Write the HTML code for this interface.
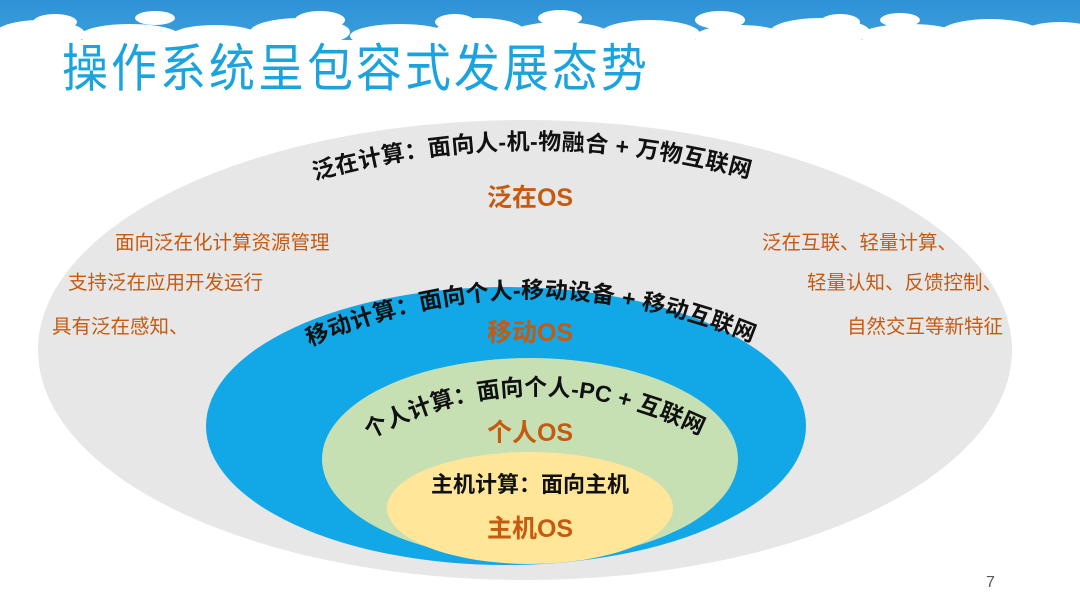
<!DOCTYPE html>
<html><head><meta charset="utf-8"><style>
html,body{margin:0;padding:0;width:1080px;height:608px;overflow:hidden;background:#fff}
svg{display:block}
text{font-family:"Liberation Sans","Noto Sans CJK SC",sans-serif}
</style></head><body>
<svg width="1080" height="608" viewBox="0 0 1080 608">
<defs>
<linearGradient id="sky" x1="0" y1="0" x2="0" y2="1"><stop offset="0" stop-color="#2f92d6"/><stop offset="1" stop-color="#3a9edc"/></linearGradient>
<path id="a1" d="M 308 182 Q 530 118 756 180"/>
<path id="a2" d="M 306 348 Q 530 250 756 344"/>
<path id="a3" d="M 364 442 Q 530 350 706 438"/>
</defs>
<rect x="0" y="0" width="1080" height="40" fill="url(#sky)"/>
<g fill="#fff">
<ellipse cx="40" cy="34" rx="45" ry="14"/><ellipse cx="130" cy="36" rx="50" ry="12"/>
<ellipse cx="215" cy="37" rx="45" ry="12"/><ellipse cx="300" cy="32" rx="50" ry="14"/>
<ellipse cx="400" cy="36" rx="50" ry="12"/><ellipse cx="480" cy="32" rx="45" ry="14"/>
<ellipse cx="560" cy="35" rx="50" ry="13"/><ellipse cx="650" cy="34" rx="50" ry="14"/>
<ellipse cx="740" cy="37" rx="45" ry="12"/><ellipse cx="820" cy="32" rx="50" ry="14"/>
<ellipse cx="910" cy="36" rx="50" ry="12"/><ellipse cx="990" cy="33" rx="50" ry="14"/>
<ellipse cx="1060" cy="35" rx="40" ry="13"/>
<ellipse cx="55" cy="22" rx="22" ry="8"/><ellipse cx="155" cy="18" rx="20" ry="7"/>
<ellipse cx="320" cy="20" rx="25" ry="9"/><ellipse cx="455" cy="22" rx="20" ry="8"/>
<ellipse cx="560" cy="18" rx="22" ry="8"/><ellipse cx="720" cy="20" rx="25" ry="9"/>
<ellipse cx="840" cy="22" rx="20" ry="8"/><ellipse cx="900" cy="20" rx="20" ry="7"/>
</g>
<text x="62" y="86" font-size="46" fill="#1ba3df" letter-spacing="3" transform="translate(0,-10) scale(1,1.12)">操作系统呈包容式发展态势</text>
<ellipse cx="525" cy="350" rx="487" ry="230" fill="#e7e7e7"/>
<ellipse cx="506" cy="426" rx="300" ry="139" fill="#12a7e6"/>
<ellipse cx="530" cy="459" rx="208" ry="101" fill="#c6e0b4"/>
<ellipse cx="530" cy="508" rx="143" ry="56" fill="#ffe699"/>
<g font-weight="bold" fill="#111" font-size="23">
<text text-anchor="middle"><textPath href="#a1" startOffset="50%" textLength="440">泛在计算：面向人-机-物融合 + 万物互联网</textPath></text>
<text text-anchor="middle"><textPath href="#a2" startOffset="50%" textLength="455">移动计算：面向个人-移动设备 + 移动互联网</textPath></text>
<text text-anchor="middle"><textPath href="#a3" startOffset="50%" textLength="345">个人计算：面向个人-PC + 互联网</textPath></text>
<text x="530" y="492" text-anchor="middle" font-size="22">主机计算：面向主机</text>
</g>
<g font-weight="bold" fill="#c55a11" font-size="25" text-anchor="middle">
<text x="530" y="206">泛在OS</text>
<text x="530" y="341">移动OS</text>
<text x="530" y="441">个人OS</text>
<text x="530" y="537">主机OS</text>
</g>
<g fill="#c55a11" font-size="19.5">
<text x="115" y="249">面向泛在化计算资源管理</text>
<text x="68" y="289">支持泛在应用开发运行</text>
<text x="52" y="333">具有泛在感知、</text>
<text x="957" y="249" text-anchor="end">泛在互联、轻量计算、</text>
<text x="1002" y="289" text-anchor="end">轻量认知、反馈控制、</text>
<text x="1003" y="333" text-anchor="end">自然交互等新特征</text>
</g>
<text x="986" y="587" font-size="16" fill="#555">7</text>
</svg>
</body></html>
